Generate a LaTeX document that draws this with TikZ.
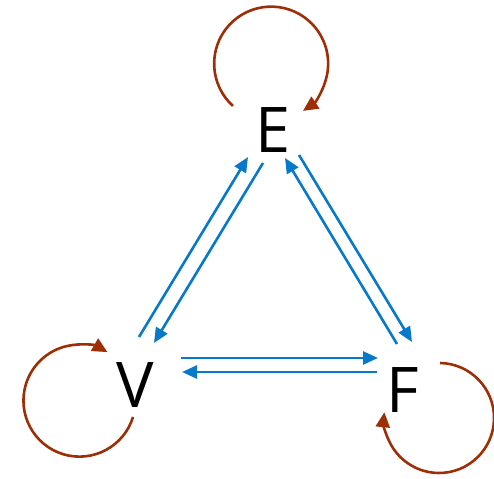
\documentclass[tikz,border=0pt]{standalone}
\usepackage{fontspec}
\setmainfont{Open Sans}
\usetikzlibrary{arrows.meta}

\definecolor{edgeblue}{RGB}{6,122,200}
\definecolor{loopbrown}{RGB}{158,46,6}

\begin{document}
\begin{tikzpicture}[x=1pt,y=1pt,
  letter/.style={inner sep=0pt,font=\fontsize{63}{63}\selectfont},
  edgeline/.style={draw=edgeblue,line width=2.6pt,-{Triangle[length=15pt,width=13pt]}},
  loopline/.style={draw=loopbrown,line width=2.6pt,-{Triangle[length=15pt,width=14pt]}}]

\useasboundingbox (0,0) rectangle (494,478);

% Labels
\node[letter] (E) at (273,348) {E};
\node[letter] (V) at (135,93) {V};
\node[letter] (F) at (403,88) {F};

% Loops
\draw[loopline] ([shift={(-40,24)}]E.center) arc[start angle=228,end angle=-56,radius=57];
\draw[loopline] ([shift={(-2,-32)}]V.center) arc[start angle=-17,end angle=-300,radius=56];
\draw[loopline] ([shift={(37,27)}]F.center) arc[start angle=89,end angle=-186,radius=55];

% Edges
\draw[edgeline] ([shift={(4,48)}]V.center) -- ([shift={(-25,-27)}]E.center);
\draw[edgeline] ([shift={(-10,-33)}]E.center) -- ([shift={(19,42)}]V.center);
\draw[edgeline] ([shift={(26,-25)}]E.center) -- ([shift={(9,48)}]F.center);
\draw[edgeline] ([shift={(-6,46)}]F.center) -- ([shift={(12,-28)}]E.center);
\draw[edgeline] ([shift={(46,27)}]V.center) -- ([shift={(-25,32)}]F.center);
\draw[edgeline] ([shift={(-26,18)}]F.center) -- ([shift={(47,13)}]V.center);

\end{tikzpicture}
\end{document}
